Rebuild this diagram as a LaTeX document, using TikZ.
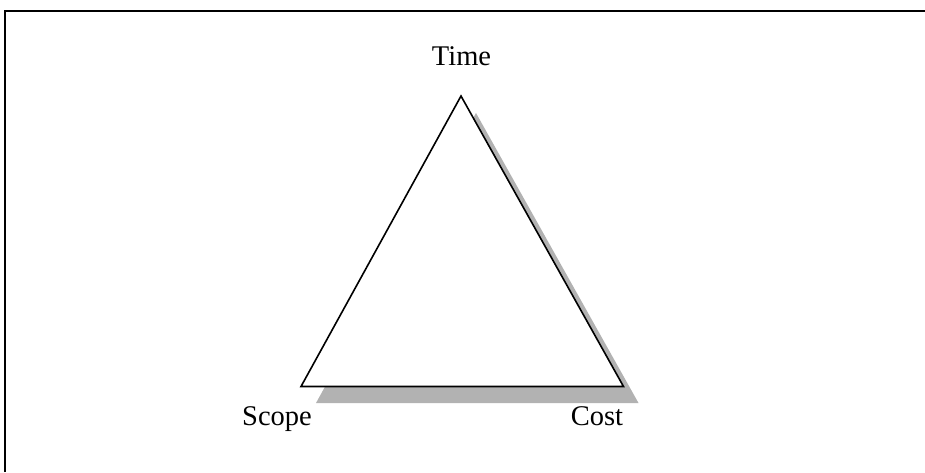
\documentclass[tikz,border=0pt]{standalone}
\usepackage{fontspec}
\setmainfont{Liberation Serif}
\begin{document}
\begin{tikzpicture}[x=1pt,y=-1pt,
  lbl/.style={anchor=base,inner sep=0pt,font=\fontsize{28.5}{31}\selectfont},
  edge/.style={line width=1.6pt,line join=miter},
  frameline/.style={line width=2pt},
  shade/.style={fill=gray!60,draw=none}]
\useasboundingbox (0,0) rectangle (925,472);
% frame (top and left edges)
\coordinate (fl) at (5,472);
\coordinate (ftl) at (5,11);
\coordinate (ftr) at (925,11);
\draw[frameline] (fl) -- (ftl) -- (ftr);
% triangle vertices
\coordinate (T) at (461,96);
\coordinate (S) at (301,386.5);
\coordinate (C) at (623.5,386.5);
% shadow
\coordinate (Ts) at (476,113);
\coordinate (Ss) at (316,403);
\coordinate (Cs) at (638.5,403);
\fill[shade] (Ts) -- (Cs) -- (Ss) -- cycle;
\fill[white] (T) -- (C) -- (S) -- cycle;
\draw[edge] (T) -- (C) -- (S) -- cycle;
% labels
\node[lbl] (time) at (461.5,65) {Time};
\node[lbl] (scope) at (277,425) {Scope};
\node[lbl] (cost) at (597,425) {Cost};
\end{tikzpicture}
\end{document}
